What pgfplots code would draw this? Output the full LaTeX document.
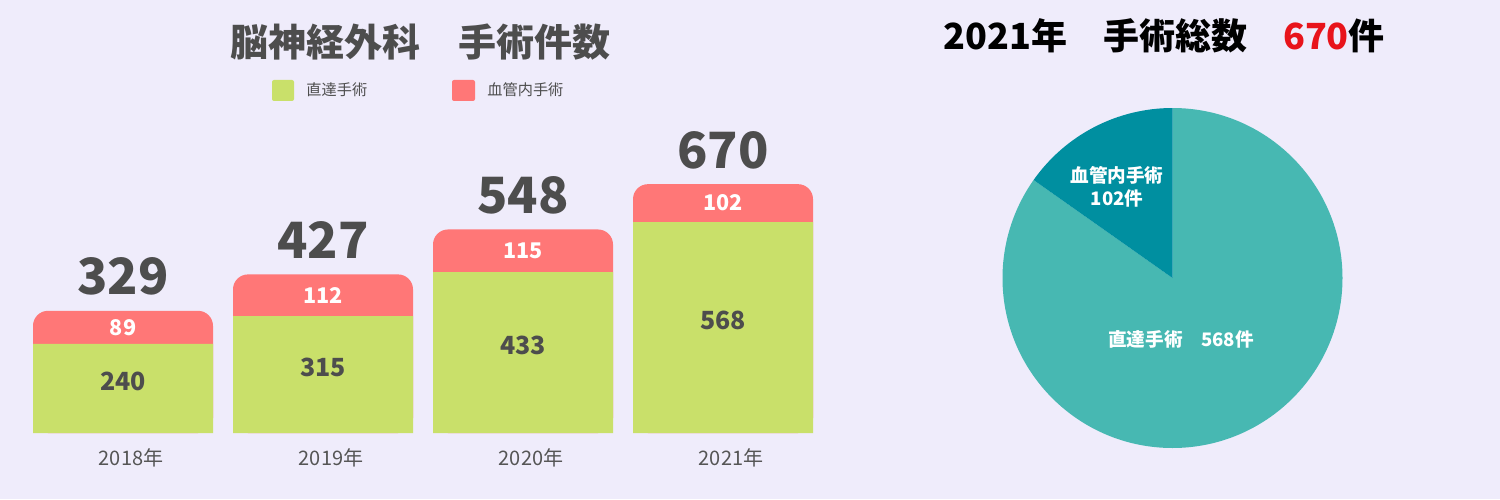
\documentclass[border=0pt]{standalone}
\usepackage{pgfplots}
\pgfplotsset{compat=1.18}
\usepackage{pgfplotstable}
\usepackage{fontspec}
\setmainfont{Noto Sans CJK JP}

\definecolor{bgcol}{RGB}{239,236,251}
\definecolor{directcol}{RGB}{201,224,106}
\definecolor{endocol}{RGB}{255,119,119}
\definecolor{piemain}{RGB}{71,184,178}
\definecolor{piedark}{RGB}{0,143,160}
\definecolor{darktext}{RGB}{77,77,77}
\definecolor{ticktext}{RGB}{85,85,85}
\definecolor{accent}{RGB}{232,20,27}

% surgery counts per year: direct (open) and endovascular
\pgfplotstableread{
x direct endo
0 240 89
1 315 112
2 433 115
3 568 102
}\surgeries

\def\pieDirect{568}
\def\pieEndo{102}

\begin{document}
\begin{tikzpicture}[x=0.5pt,y=0.5pt]
\fill[bgcol] (0,0) rectangle (1500,499);
\path[use as bounding box] (0,0) rectangle (1500,499);

% ---- stacked bar chart ----
\begin{axis}[
  at={(16.5pt,33pt)}, anchor=south west,
  scale only axis, width=390pt, height=130pt,
  xmin=-0.45, xmax=3.45, ymin=0, ymax=700,
  axis line style={draw=none},
  ytick=\empty,
  xtick={0,1,2,3},
  xticklabels={2018年,2019年,2020年,2021年},
  major tick length=0pt,
  xticklabel style={anchor=center, yshift=-12.5pt, xshift=4pt,
    font=\fontsize{10pt}{12pt}\selectfont, text=ticktext},
  /pgf/number format/assume math mode=true,
  clip=false,
]
% full-height endovascular bar with rounded top, direct part drawn over it
\addplot[ybar, bar width=90pt, fill=endocol, draw=none, rounded corners=7.5pt]
  table[x=x, y expr=\thisrow{direct}+\thisrow{endo}] {\surgeries};
\addplot[ybar, bar width=90pt, fill=directcol, draw=none]
  table[x=x, y=direct] {\surgeries};
% totals above bars
\addplot[draw=none, mark=none, nodes near coords, point meta=y,
  nodes near coords style={anchor=center, yshift=17pt, text=darktext,
    font=\fontsize{25pt}{28pt}\selectfont\bfseries}]
  table[x=x, y expr=\thisrow{direct}+\thisrow{endo}] {\surgeries};
% direct counts in the green part
\addplot[draw=none, mark=none, nodes near coords, point meta=explicit,
  nodes near coords style={anchor=center, yshift=3.7pt, text=darktext,
    font=\fontsize{12.5pt}{14pt}\selectfont\bfseries}]
  table[x=x, y expr=\thisrow{direct}/2, meta=direct] {\surgeries};
% endovascular counts, centred in the red part
\addplot[draw=none, mark=none, nodes near coords, point meta=explicit,
  nodes near coords style={anchor=center, text=white,
    font=\fontsize{10.8pt}{12pt}\selectfont\bfseries}]
  table[x=x, y expr=\thisrow{direct}+\thisrow{endo}/2, meta=endo] {\surgeries};
\end{axis}

% chart title and legend
\node[text=darktext, font=\fontsize{19pt}{22pt}\selectfont\bfseries] at (420,457) {脳神経外科　手術件数};
\fill[directcol, rounded corners=1pt] (272,398) rectangle (294,419);
\node[anchor=west, text=darktext, font=\fontsize{7.6pt}{9pt}\selectfont, inner sep=0pt] at (306,409) {直達手術};
\fill[endocol, rounded corners=1pt] (452,398) rectangle (475,419);
\node[anchor=west, text=darktext, font=\fontsize{7.6pt}{9pt}\selectfont, inner sep=0pt] at (487,409) {血管内手術};

% ---- pie chart for 2021 ----
\begin{axis}[
  at={(586.25pt,110.5pt)}, anchor=center,
  scale only axis, width=170pt, height=170pt,
  xmin=-1, xmax=1, ymin=-1, ymax=1,
  hide axis, clip=false,
]
\pgfmathsetmacro\endoAngle{\pieEndo/(\pieDirect+\pieEndo)*360}
\fill[piemain] (axis cs:0,0) -- (axis cs:0,1)
  arc[start angle=90, end angle=90-(360-\endoAngle), radius=85pt] -- cycle;
\fill[piedark] (axis cs:0,0) -- (axis cs:0,1)
  arc[start angle=90, end angle=90+\endoAngle, radius=85pt] -- cycle;
\node[text=white, font=\fontsize{9.3pt}{11pt}\selectfont\bfseries] at (axis cs:-0.326,0.606) {血管内手術};
\node[text=white, font=\fontsize{9.3pt}{11pt}\selectfont\bfseries] at (axis cs:-0.326,0.465) {\pieEndo 件};
\node[text=white, font=\fontsize{9.3pt}{11pt}\selectfont\bfseries] at (axis cs:0.05,-0.359) {直達手術　\pieDirect 件};
\end{axis}

% pie title
\node[anchor=west, inner sep=0pt, text=black, font=\fontsize{18pt}{21pt}\selectfont\bfseries] at (943,463)
  {2021年　手術総数　\textcolor{accent}{670}件};
\end{tikzpicture}
\end{document}
